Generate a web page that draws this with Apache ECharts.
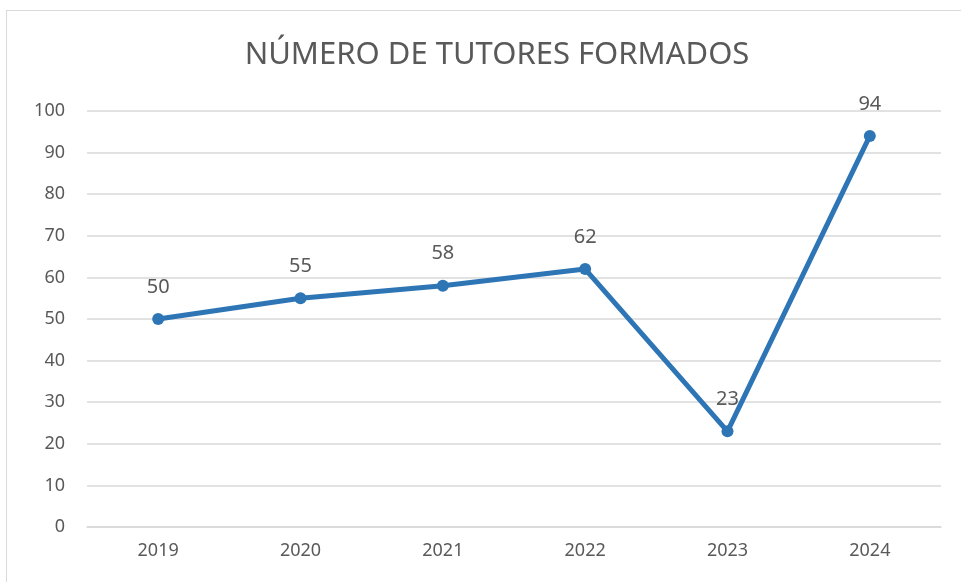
<!DOCTYPE html>
<html>
<head>
<meta charset="utf-8">
<script src="https://cdn.jsdelivr.net/npm/echarts@6/dist/echarts.min.js"></script>
<style>
  html, body { margin: 0; padding: 0; background: #fff; }
  #chart { width: 961px; height: 582px; }
  .frame {
    position: absolute; left: 6px; top: 10px; width: 970px; height: 600px;
    border: 1px solid #d9d9d9; box-sizing: border-box; pointer-events: none;
  }
</style>
</head>
<body>
<div id="chart"></div>
<div class="frame"></div>
<script>
const years = ['2019', '2020', '2021', '2022', '2023', '2024']
const tutores = [50, 55, 58, 62, 23, 94]

const chart = echarts.init(document.getElementById('chart'))
const labelColor = '#595959'
const font = 'Noto Sans'

chart.setOption({
  animation: false,
  title: {
    text: 'NÚMERO DE TUTORES FORMADOS',
    left: 492,
    textAlign: 'center',
    top: 35,
    textStyle: { color: labelColor, fontSize: 31, fontWeight: 'normal', fontFamily: font },
  },
  grid: { left: 87, right: 20, top: 111, bottom: 55 },
  xAxis: {
    type: 'category',
    data: years,
    axisLine: { lineStyle: { color: '#d9d9d9', width: 1.5 } },
    axisTick: { show: false },
    axisLabel: { color: labelColor, fontSize: 18, fontFamily: font, margin: 15 },
  },
  yAxis: {
    type: 'value',
    min: 0,
    max: 100,
    interval: 10,
    axisLine: { show: false },
    axisTick: { show: false },
    splitLine: { lineStyle: { color: '#d9d9d9', width: 1.5 } },
    axisLabel: { color: labelColor, fontSize: 18, fontFamily: font, margin: 22 },
  },
  series: [
    {
      type: 'line',
      data: tutores,
      symbol: 'circle',
      symbolSize: 12,
      lineStyle: { color: '#2E75B6', width: 5 },
      itemStyle: { color: '#2E75B6' },
      label: {
        show: true,
        position: 'top',
        distance: 16,
        color: labelColor,
        fontSize: 20,
        fontFamily: font,
      },
    },
  ],
})
</script>
</body>
</html>
